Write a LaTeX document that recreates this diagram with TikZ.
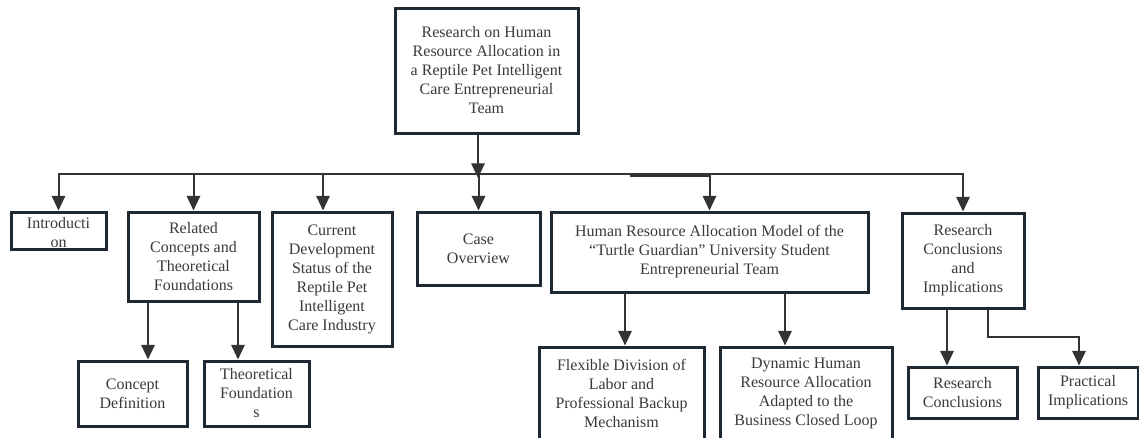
\documentclass[tikz,border=0pt]{standalone}
\usepackage{fontspec}
\setmainfont{Liberation Serif}
\usetikzlibrary{arrows.meta}
\definecolor{boxc}{HTML}{1F2933}
\definecolor{linec}{HTML}{333333}
\definecolor{txtc}{HTML}{3A3A3A}
\begin{document}
\begin{tikzpicture}[x=0.75pt,y=-0.75pt,
  box/.style={draw=boxc, line width=2.25pt, fill=white, inner sep=0pt, align=center,
              font=\fontsize{12pt}{14.25pt}\selectfont, text=txtc},
  txt/.style={inner sep=0pt, align=center, font=\fontsize{12pt}{14.25pt}\selectfont, text=txtc},
  conn/.style={draw=linec, line width=1.5pt},
  arr/.style={conn, -{Triangle[length=11pt,width=10pt]}}]
\clip (0,0) rectangle (1139,437);
\fill[white] (0,0) rectangle (1139,437);

% boxes
\node[box, minimum width=137.25pt, minimum height=93.75pt] (root) at (486.5,70.5)
  {Research on Human\\Resource Allocation in\\a Reptile Pet Intelligent\\Care Entrepreneurial\\Team};
\node[box, minimum width=71.25pt, minimum height=27.75pt] (intro) at (58.5,230.5) {};
\node[txt] (introtxt) at (58.5,233) {Introducti\\on};
\node[box, minimum width=98.25pt, minimum height=66.75pt] (related) at (193.5,256.5)
  {Related\\Concepts and\\Theoretical\\Foundations};
\node[box, minimum width=90pt, minimum height=100.5pt] (current) at (332,279)
  {Current\\Development\\Status of the\\Reptile Pet\\Intelligent\\Care Industry};
\node[box, minimum width=92.25pt, minimum height=54.75pt] (case) at (478.5,248.5)
  {Case\\Overview};
\node[box, minimum width=237.75pt, minimum height=60pt] (hra) at (709.5,252)
  {Human Resource Allocation Model of the\\``Turtle Guardian'' University Student\\Entrepreneurial Team};
\node[box, minimum width=91.5pt, minimum height=71.25pt] (rci) at (963,260.5)
  {Research\\Conclusions\\and\\Implications};
\node[box, minimum width=81.75pt, minimum height=48.75pt] (concept) at (132.5,393.5)
  {Concept\\Definition};
\node[box, minimum width=78.75pt, minimum height=48.75pt] (theo) at (256.5,393.5)
  {Theoretical\\Foundation\\s};
\node[box, minimum width=123.75pt, minimum height=69.75pt] (flex) at (621.5,393.5)
  {Flexible Division of\\Labor and\\Professional Backup\\Mechanism};
\node[box, minimum width=129pt, minimum height=69.75pt] (dyn) at (806,393.5)
  {Dynamic Human\\Resource Allocation\\Adapted to the\\Business Closed Loop};
\node[box, minimum width=81.75pt, minimum height=38.25pt] (rc) at (962.5,392.5)
  {Research\\Conclusions};
\node[box, minimum width=75pt, minimum height=38.25pt] (prac) at (1088,392.5)
  {Practical\\Implications};

% coordinates
\coordinate (busL) at (58,174);
\coordinate (busR) at (963,174);
\coordinate (rootx) at (478,178);
\coordinate (curx) at (323,174);
\coordinate (hraj) at (630,175.5);
\coordinate (x148) at (148,0);
\coordinate (x238) at (238,0);
\coordinate (x625) at (625,0);
\coordinate (x785) at (785,0);
\coordinate (x947) at (947,0);
\coordinate (p1) at (988,337);
\coordinate (p2) at (1079,337);

% connectors
\draw[arr] (busL) -- (busR) -- (rci.north);
\draw[arr] (root.south -| rootx) -- (rootx);
\draw[arr] (busL) -- (busL -| intro.north) -- (intro.north);
\draw[arr] (related.north |- busL) -- (related.north);
\draw[arr] (curx) -- (curx |- current.north);
\draw[arr] (case.north |- busL) -- (case.north);
\draw[arr] (hraj) -| (hra.north);
\draw[arr] (related.south -| x148) -- (concept.north -| x148);
\draw[arr] (related.south -| x238) -- (theo.north -| x238);
\draw[arr] (hra.south -| x625) -- (flex.north -| x625);
\draw[arr] (hra.south -| x785) -- (dyn.north -| x785);
\draw[arr] (rci.south -| x947) -- (rc.north -| x947);
\draw[arr] (rci.south -| p1) -- (p1) -- (p2) -- (p2 |- prac.north);
\end{tikzpicture}
\end{document}
